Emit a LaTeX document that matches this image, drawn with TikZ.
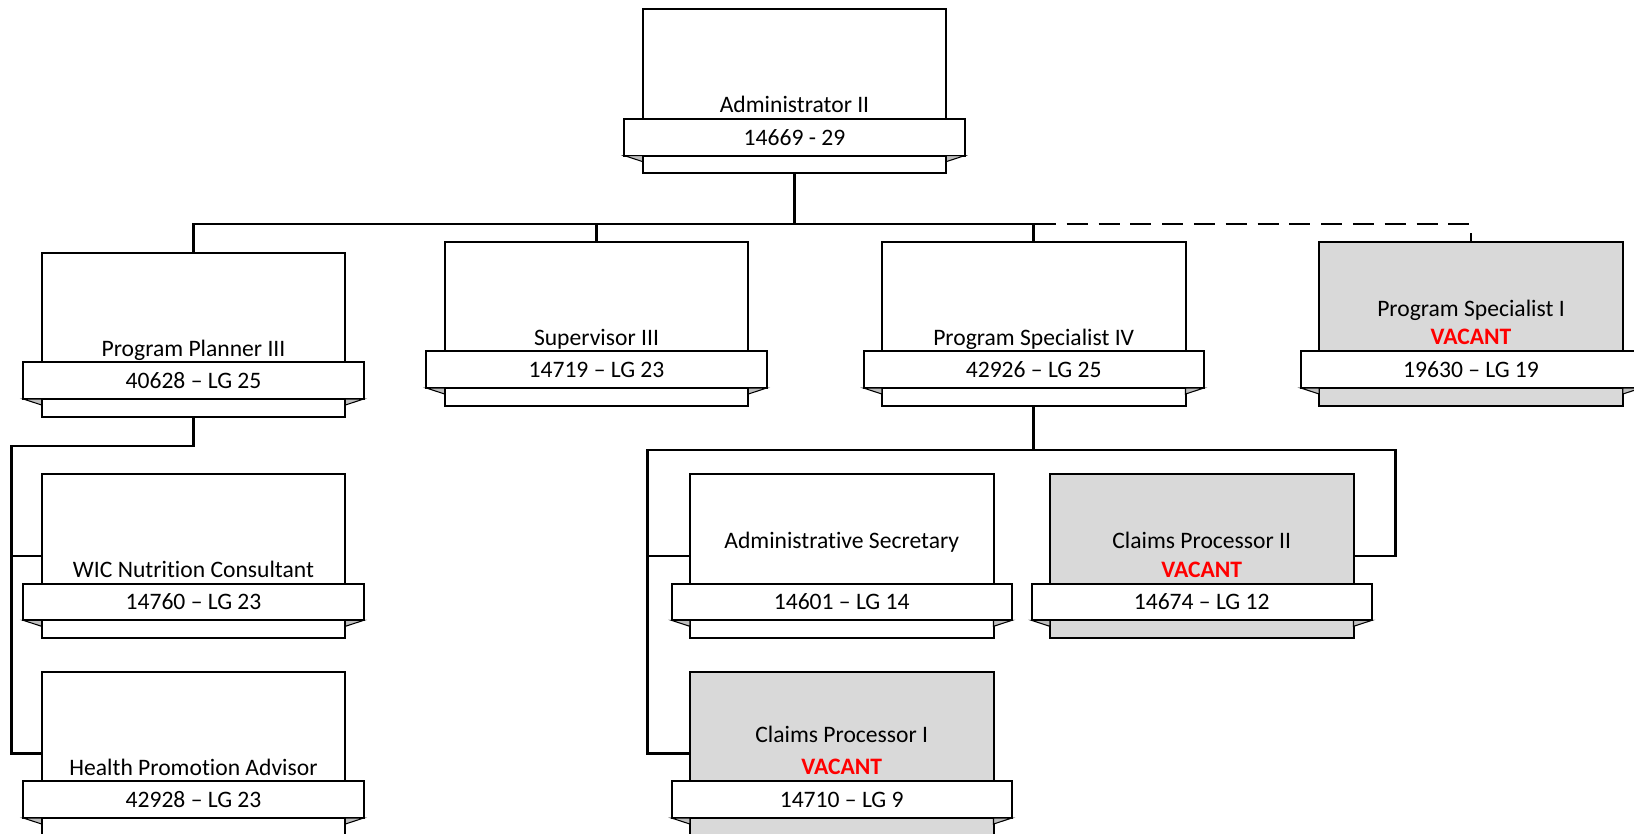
\documentclass[tikz,border=0pt]{standalone}
\usepackage{fontspec}
\setmainfont{Carlito}[Ligatures=NoCommon]
\usetikzlibrary{calc}
\definecolor{vacgray}{HTML}{D9D9D9}
\definecolor{vacred}{HTML}{FF0000}
\definecolor{foldgray}{HTML}{BFBFBF}
\tikzset{
  posbox/.style={draw=black, line width=1.5pt, minimum width=227.7pt, minimum height=123pt, inner sep=0pt, outer sep=0pt},
  barbox/.style={draw=black, fill=white, line width=1.5pt, minimum width=255.3pt, minimum height=27.5pt, inner sep=0pt, outer sep=0pt, font=\fontsize{17.7}{21}\selectfont},
  titletext/.style={inner sep=0pt, anchor=base, font=\fontsize{17.7}{21}\selectfont},
  vactext/.style={inner sep=0pt, anchor=base, text=vacred, font=\fontsize{17.7}{21}\selectfont\bfseries},
  conn/.style={line width=2pt, draw=black},
  dashconn/.style={line width=2pt, draw=black, dash pattern=on 15.75pt off 8.1pt, dash phase=10.5pt},
  fold/.style={fill=foldgray, draw=black, line width=0.8pt},
}
\newcommand\posn[4]{%
  \node[posbox, fill=#3] (#1) at (#2) {};
  \node[barbox] (#1b) at ([yshift=-34.5pt]#1.center) {#4};
  \draw[fold] (#1b.south west) -- (#1b.south west -| #1.west) -- ($(#1b.south west -| #1.west)+(0,6)$) -- cycle;
  \draw[fold] (#1b.south east) -- (#1b.south east -| #1.east) -- ($(#1b.south east -| #1.east)+(0,6)$) -- cycle;
}
\begin{document}
\begin{tikzpicture}[x=0.75pt, y=-0.75pt]
\useasboundingbox (0,0) rectangle (1634,834);
\clip (0,0) rectangle (1634,834);

% boxes
\posn{admin}{794.5,91.3}{white}{14669 - 29}
\posn{pp3}{193.5,334.7}{white}{40628 – LG 25}
\posn{sup}{596.5,323.7}{white}{14719 – LG 23}
\posn{ps4}{1033.7,323.7}{white}{42926 – LG 25}
\posn{ps1}{1471,323.7}{vacgray}{19630 – LG 19}
\posn{wic}{193.5,556}{white}{14760 – LG 23}
\posn{hpa}{193.5,753.7}{white}{42928 – LG 23}
\posn{adms}{841.7,556}{white}{14601 – LG 14}
\posn{cp2}{1201.7,556}{vacgray}{14674 – LG 12}
\posn{cp1}{841.7,753.7}{vacgray}{14710 – LG 9}

% titles
\node[titletext] (admint) at ([yshift=4.5pt]adminb.north) {Administrator II};
\node[titletext] (pp3t) at ([yshift=4.5pt]pp3b.north) {Program Planner III};
\node[titletext] (supt) at ([yshift=4.5pt]supb.north) {Supervisor III};
\node[titletext] (ps4t) at ([yshift=4.5pt]ps4b.north) {Program Specialist IV};
\node[titletext] (ps1t) at ([yshift=26.5pt]ps1b.north) {Program Specialist I};
\node[vactext] (ps1v) at ([yshift=5pt]ps1b.north) {VACANT};
\node[titletext] (wict) at ([yshift=4.5pt]wicb.north) {WIC Nutrition Consultant};
\node[titletext] (hpat) at ([yshift=4.5pt]hpab.north) {Health Promotion Advisor};
\node[titletext] (admst) at ([yshift=26.5pt]admsb.north) {Administrative Secretary};
\node[titletext] (cp2t) at ([yshift=26.5pt]cp2b.north) {Claims Processor II};
\node[vactext] (cp2v) at ([yshift=5pt]cp2b.north) {VACANT};
\node[titletext] (cp1t) at ([yshift=28.9pt]cp1b.north) {Claims Processor I};
\node[vactext] (cp1v) at ([yshift=5.25pt]cp1b.north) {VACANT};

% connectors
\coordinate (ybus) at (0,224);
\coordinate (tbus) at (admin.south |- ybus);
\draw[dashconn] (tbus) -| (ps1.north);
\draw[conn] (admin.south) -- (tbus);
\draw[conn] (pp3.north) -- (pp3.north |- ybus) -- (ps4.north |- ybus) -- (ps4.north);
\draw[conn] (sup.north) -- (sup.north |- ybus);

\coordinate (pbus) at (11.7,446);
\draw[conn] (pp3.south) |- (pbus) |- (wic.west);
\draw[conn] (pbus) |- (hpa.west);

\coordinate (rl) at (647.7,450);
\coordinate (rr) at (1395.7,450);
\draw[conn] (ps4.south) |- (rl) |- (adms.west);
\draw[conn] (rl) |- (cp1.west);
\draw[conn] (ps4.south |- rl) -- (rr) |- (cp2.east);
\end{tikzpicture}
\end{document}
